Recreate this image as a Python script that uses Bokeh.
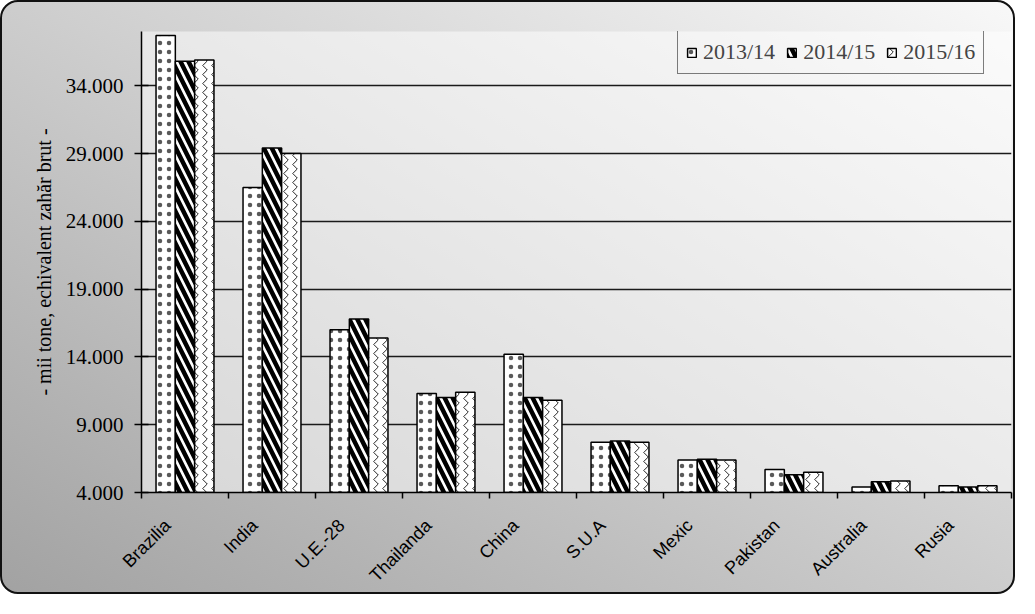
import numpy as np
from math import pi
from bokeh.plotting import figure
from bokeh.models import FixedTicker, Legend, LegendItem, Range1d
from bokeh.embed import file_html
from bokeh.resources import INLINE

# ---- data ----
countries = ["Brazilia", "India", "U.E.-28", "Thailanda", "China",
             "S.U.A", "Mexic", "Pakistan", "Australia", "Rusia"]
seasons = ["2013/14", "2014/15", "2015/16"]
v_2013_14 = [37700, 26500, 16000, 11300, 14200, 7700, 6400, 5700, 4400, 4500]
v_2014_15 = [35800, 29400, 16800, 11000, 11000, 7800, 6450, 5300, 4800, 4400]
v_2015_16 = [35900, 29000, 15400, 11400, 10800, 7700, 6400, 5500, 4850, 4500]
y_ticks = [4000, 9000, 14000, 19000, 24000, 29000, 34000]
y_tick_labels = ["4.000", "9.000", "14.000", "19.000", "24.000", "29.000", "34.000"]
y_min, y_max = 4000, 38000
y_title = "- mii tone, echivalent zahăr brut -"

SERIF = "Liberation Serif"
SANS = "Liberation Sans"

n = len(countries)
centers = np.arange(n) + 0.5
bw = 0.222
label_shift = 0.2   # rotated category labels sit a little left of the group centre

p = figure(width=1015, height=594,
           x_range=Range1d(0, n), y_range=Range1d(y_min, y_max),
           output_backend="svg", toolbar_location=None,
           min_border_left=139, min_border_right=6,
           min_border_top=29, min_border_bottom=104)

p.styles = {
    "border": "2px solid #111111",
    "border-radius": "18px",
    "background": "linear-gradient(to bottom left, #f8f8f8, #a2a2a2)",
    "overflow": "hidden",
}
p.border_fill_color = None
p.background_fill_color = "white"
p.background_fill_alpha = 0.5
p.outline_line_color = None

styles = [
    dict(hatch_pattern="dot", hatch_scale=9, hatch_weight=0.3, hatch_alpha=0.65),
    dict(hatch_pattern="left_diagonal_line", hatch_scale=16, hatch_weight=4.5, hatch_alpha=1.0),
    dict(hatch_pattern="vertical_wave", hatch_scale=9, hatch_weight=1.0, hatch_alpha=0.85),
]
series = [v_2013_14, v_2014_15, v_2015_16]
offsets = [-bw, 0.0, bw]
renderers = []
for vals, off, st in zip(series, offsets, styles):
    r = p.vbar(x=centers + off, top=vals, bottom=y_min, width=bw,
               fill_color="white", line_color="black", line_width=1.5,
               hatch_color="black", **st)
    renderers.append(r)

# grid
p.xgrid.visible = False
p.ygrid.ticker = FixedTicker(ticks=y_ticks)
p.ygrid.grid_line_color = "#1a1a1a"
p.ygrid.grid_line_width = 1.5

# y axis
ya = p.yaxis[0]
ya.ticker = FixedTicker(ticks=y_ticks)
ya.major_label_overrides = {t: l for t, l in zip(y_ticks, y_tick_labels)}
ya.major_tick_in = 7
ya.major_tick_out = 7
ya.minor_tick_in = 0
ya.minor_tick_out = 0
ya.major_label_standoff = 11
ya.major_label_text_font = SERIF
ya.major_label_text_font_size = "21px"
ya.major_label_text_color = "black"
ya.axis_line_color = "black"
ya.axis_line_width = 1.5
ya.major_tick_line_color = "black"
ya.major_tick_line_width = 1.5
ya.axis_label = y_title
ya.axis_label_text_font = SERIF
ya.axis_label_text_font_size = "20px"
ya.axis_label_text_font_style = "normal"
ya.axis_label_text_color = "black"
ya.axis_label_standoff = 8

# x axis
label_pos = centers - label_shift
xa = p.xaxis[0]
xa.ticker = FixedTicker(ticks=list(label_pos), minor_ticks=list(range(n + 1)))
xa.major_label_overrides = {float(c): name for c, name in zip(label_pos, countries)}
xa.major_tick_in = 0
xa.major_tick_out = 0
xa.minor_tick_in = 0
xa.minor_tick_out = 6
xa.minor_tick_line_color = "black"
xa.minor_tick_line_width = 1.5
xa.axis_line_color = "black"
xa.axis_line_width = 1.5
xa.major_label_orientation = pi / 4
xa.major_label_standoff = 24
xa.major_label_text_font = SANS
xa.major_label_text_font_size = "18px"
xa.major_label_text_color = "black"

legend = Legend(
    items=[LegendItem(label=s, renderers=[r]) for s, r in zip(seasons, renderers)],
    orientation="horizontal", location=(536, 418),
    border_line_color="black", border_line_width=1.5,
    background_fill_alpha=0,
    label_text_font=SERIF, label_text_font_size="22px",
    glyph_width=11, glyph_height=11, label_standoff=6,
    spacing=11, padding=8, margin=0,
)
p.add_layout(legend)

open("out.html", "w").write(file_html(p, INLINE, title="chart"))
